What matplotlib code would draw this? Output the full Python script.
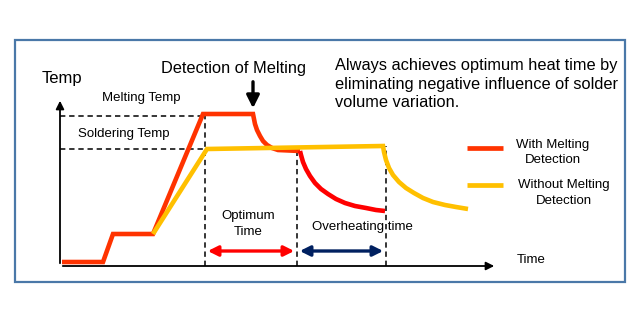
import matplotlib
matplotlib.use("Agg")
import matplotlib.pyplot as plt
from matplotlib.patches import Rectangle
from matplotlib.lines import Line2D

plt.rcParams['font.family'] = ['Liberation Sans', 'DejaVu Sans']

# heating profile, time and temperature in arbitrary units
with_time = [2, 43, 53, 93, 143, 193, 194, 195, 197, 200, 203, 207, 212, 218, 240]
with_temp = [4, 4, 32, 32, 152, 152, 147, 142, 136, 130, 125, 121, 118, 116, 115]
# overheating after melting is detected
over_time = [240, 241, 243, 246, 250, 255, 261, 268, 276, 285, 295, 306, 316, 325]
over_temp = [115, 111, 104, 97, 90, 83, 77, 72, 67, 63, 60, 58, 56, 55]
without_time = [93, 147, 323, 324, 326, 329, 333, 339, 346, 354, 363, 373, 385, 396, 408]
without_temp = [32, 117, 120, 114, 106, 98, 91, 84, 78, 73, 68, 64, 61, 59, 57]

melting_temp = 150
soldering_temp = 117
t_melt_start = 145
t_detect = 237
t_end = 326
t_arrow = 193

W, H = 640, 323
fig = plt.figure(figsize=(W / 100, H / 100), dpi=100)
ax = fig.add_axes([60 / W, 1 - 266 / H, 437 / W, 168 / H])
ax.set_xlim(0, 437)
ax.set_ylim(0, 168)
ax.axis('off')


def fx(x):
    return x / W


def fy(y):
    return 1 - y / H


# outer frame
fig.patches.append(Rectangle((fx(15), fy(282)), fx(610), 242 / H, transform=fig.transFigure,
                             fill=False, edgecolor='#4a78a8', lw=1.6))

# axes with arrow heads
ax.annotate('', xy=(1, 0), xytext=(0, 0), xycoords='axes fraction',
            arrowprops=dict(arrowstyle='-|>', color='black', lw=1.3, mutation_scale=12),
            annotation_clip=False)
ax.annotate('', xy=(0, 1), xytext=(0, 0), xycoords='axes fraction',
            arrowprops=dict(arrowstyle='-|>', color='black', lw=1.3, mutation_scale=12),
            annotation_clip=False)

dash = dict(color='black', lw=1.1, dashes=(3.5, 2.5))
ax.plot([0, t_melt_start], [melting_temp, melting_temp], **dash)
ax.plot([0, t_melt_start + 2], [soldering_temp, soldering_temp], **dash)
ax.plot([t_melt_start, t_melt_start], [0, melting_temp], **dash)
ax.plot([t_detect, t_detect], [0, over_temp[0]], **dash)
ax.plot([t_end, t_end], [0, without_temp[2]], **dash)

ax.plot(with_time, with_temp, color='#ff3300', lw=3.3, solid_joinstyle='miter', solid_capstyle='butt')
ax.plot(over_time, over_temp, color='#ff0000', lw=3.3, solid_joinstyle='round', solid_capstyle='butt')
ax.plot(without_time, without_temp, color='#ffc000', lw=3.3, solid_joinstyle='miter', solid_capstyle='butt')

# time spans
ax.annotate('', xy=(t_melt_start, 15), xytext=(t_detect, 15),
            arrowprops=dict(arrowstyle='<|-|>', color='#ff0000', lw=2.4, mutation_scale=15),
            annotation_clip=False)
ax.annotate('', xy=(t_detect, 15), xytext=(t_end, 15),
            arrowprops=dict(arrowstyle='<|-|>', color='#002060', lw=2.4, mutation_scale=15),
            annotation_clip=False)

# detection marker
ax.annotate('', xy=(t_arrow, 155), xytext=(t_arrow, 187),
            arrowprops=dict(arrowstyle='-|>', color='black', lw=2.4, mutation_scale=19),
            annotation_clip=False)

# legend keys
fig.lines.append(Line2D([fx(467), fx(503)], [fy(148), fy(148)], transform=fig.transFigure,
                        color='#ff3300', lw=3.4, solid_capstyle='butt'))
fig.lines.append(Line2D([fx(467), fx(503)], [fy(185), fy(185)], transform=fig.transFigure,
                        color='#ffc000', lw=3.4, solid_capstyle='butt'))

fig.text(fx(42), fy(83), 'Temp', fontsize=12, va='baseline')
fig.text(fx(161), fy(73), 'Detection of Melting', fontsize=11.8, va='baseline')
fig.text(fx(102), fy(101), 'Melting Temp', fontsize=9.5, va='baseline')
fig.text(fx(78), fy(137), 'Soldering Temp', fontsize=9.5, va='baseline')

lines = ['Always achieves optimum heat time by',
         'eliminating negative influence of solder',
         'volume variation.']
for s, b in zip(lines, [70, 88.5, 107]):
    fig.text(fx(335), fy(b), s, fontsize=11.8, va='baseline')

fig.text(fx(248), fy(219), 'Optimum', fontsize=9.5, ha='center', va='baseline')
fig.text(fx(248), fy(235), 'Time', fontsize=9.5, ha='center', va='baseline')
fig.text(fx(312), fy(230), 'Overheating time', fontsize=9.5, va='baseline')
fig.text(fx(517), fy(263), 'Time', fontsize=9.5, va='baseline')

fig.text(fx(553), fy(148), 'With Melting', fontsize=9.5, ha='center', va='baseline')
fig.text(fx(553), fy(163), 'Detection', fontsize=9.5, ha='center', va='baseline')
fig.text(fx(564), fy(188), 'Without Melting', fontsize=9.5, ha='center', va='baseline')
fig.text(fx(564), fy(204), 'Detection', fontsize=9.5, ha='center', va='baseline')

fig.savefig('out.png', dpi=100)
